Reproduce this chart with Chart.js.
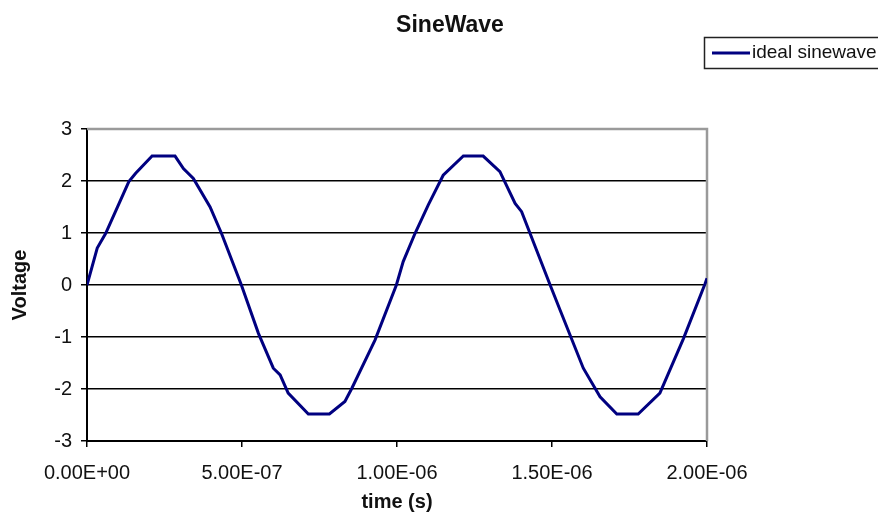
<!DOCTYPE html>
<html>
<head>
<meta charset="utf-8">
<script src="https://cdn.jsdelivr.net/npm/chart.js@4/dist/chart.umd.min.js"></script>
<style>
  html, body { margin: 0; padding: 0; background: #fff; }
  #wrap { width: 878px; height: 512px; position: relative; }
</style>
</head>
<body>
<div id="wrap"><canvas id="chart"></canvas></div>
<script>
// time in seconds, voltage
const timeS = [
  0, 0.033e-6, 0.060e-6, 0.135e-6, 0.157e-6, 0.210e-6, 0.284e-6, 0.311e-6, 0.343e-6, 0.397e-6, 0.434e-6, 0.498e-6,
  0.553e-6, 0.601e-6, 0.623e-6, 0.649e-6, 0.714e-6, 0.782e-6, 0.832e-6, 0.854e-6, 0.929e-6, 0.998e-6,
  1.020e-6, 1.058e-6, 1.101e-6, 1.149e-6, 1.214e-6, 1.278e-6, 1.332e-6, 1.381e-6, 1.402e-6, 1.494e-6,
  1.526e-6, 1.601e-6, 1.655e-6, 1.709e-6, 1.778e-6, 1.848e-6, 1.924e-6, 1.994e-6, 2.000e-6
];
const voltage = [
  0, 0.71, 0.99, 1.99, 2.15, 2.48, 2.48, 2.24, 2.05, 1.50, 0.99, 0.00,
  -0.93, -1.60, -1.73, -2.08, -2.48, -2.48, -2.24, -1.99, -1.06, 0.00,
  0.45, 0.99, 1.54, 2.11, 2.48, 2.48, 2.18, 1.57, 1.41, 0.00,
  -0.48, -1.60, -2.15, -2.48, -2.48, -2.08, -1.03, 0.03, 0.13
];
const xTickValues = [0, 5e-7, 1e-6, 1.5e-6, 2e-6];
const xTickLabels = ["0.00E+00", "5.00E-07", "1.00E-06", "1.50E-06", "2.00E-06"];
const yTickValues = [-3, -2, -1, 0, 1, 2, 3];
const seriesName = "ideal sinewave";
const chartTitle = "SineWave";

const FONT = "'Liberation Sans', Arial, sans-serif";
const NAVY = "#000080";

const points = timeS.map((t, i) => ({ x: t, y: voltage[i] }));

// title, legend box and the grey plot frame, Excel style
const decor = {
  id: "decor",
  beforeDatasetsDraw(chart) {
    const { ctx, chartArea: a } = chart;
    ctx.save();
    ctx.strokeStyle = "#9a9a9a";
    ctx.lineWidth = 2.5;
    ctx.beginPath();
    ctx.moveTo(a.left, a.top);
    ctx.lineTo(a.right, a.top);
    ctx.lineTo(a.right, a.bottom);
    ctx.stroke();
    ctx.restore();
  },
  afterDraw(chart) {
    const ctx = chart.ctx;
    ctx.save();
    ctx.fillStyle = "#111";
    ctx.font = "bold 23px " + FONT;
    ctx.textAlign = "center";
    ctx.textBaseline = "alphabetic";
    ctx.fillText(chartTitle, 450, 32);

    ctx.strokeStyle = "#222";
    ctx.lineWidth = 1.5;
    ctx.strokeRect(704.5, 37.5, 180, 31);
    ctx.strokeStyle = NAVY;
    ctx.lineWidth = 3;
    ctx.beginPath();
    ctx.moveTo(712, 53);
    ctx.lineTo(750, 53);
    ctx.stroke();
    ctx.font = "19px " + FONT;
    ctx.textAlign = "left";
    ctx.textBaseline = "middle";
    ctx.fillStyle = "#111";
    ctx.fillText(chart.data.datasets[0].label, 752, 53);
    ctx.restore();
  }
};

new Chart(document.getElementById("chart"), {
  type: "line",
  data: {
    datasets: [{
      label: seriesName,
      data: points,
      borderColor: NAVY,
      borderWidth: 3,
      pointRadius: 0,
      tension: 0,
      fill: false
    }]
  },
  options: {
    responsive: true,
    maintainAspectRatio: false,
    animation: false,
    devicePixelRatio: 1,
    layout: { padding: { top: 129, right: 171, left: 0, bottom: 0 } },
    plugins: {
      legend: { display: false },
      title: { display: false },
      tooltip: { enabled: false }
    },
    scales: {
      x: {
        type: "linear",
        min: 0,
        max: 2e-6,
        afterBuildTicks: (s) => { s.ticks = xTickValues.map(v => ({ value: v })); },
        afterFit: (s) => { s.height = 71; },
        ticks: {
          callback: (v, i) => xTickLabels[i],
          font: { family: FONT, size: 20 },
          color: "#111",
          padding: 14,
          maxRotation: 0,
          autoSkip: false
        },
        grid: { drawOnChartArea: false, drawTicks: true, tickLength: 6, color: "#000", lineWidth: 1.5 },
        border: { display: true, color: "#000", width: 2 },
        title: {
          display: true,
          text: "time (s)",
          font: { family: FONT, size: 20, weight: "bold", lineHeight: 1 },
          color: "#111",
          padding: { top: 0, bottom: 0 }
        }
      },
      y: {
        min: -3,
        max: 3,
        afterBuildTicks: (s) => { s.ticks = yTickValues.map(v => ({ value: v })); },
        afterFit: (s) => { s.width = 87; },
        ticks: {
          font: { family: FONT, size: 20 },
          color: "#111",
          padding: 9
        },
        grid: {
          color: (c) => (c.tick && c.tick.value === 3 ? "#9a9a9a" : "#000"),
          tickColor: "#000",
          lineWidth: 1.5,
          tickLength: 6
        },
        border: { display: true, color: "#000", width: 2 },
        title: {
          display: true,
          text: "Voltage",
          font: { family: FONT, size: 20, weight: "bold", lineHeight: 1.2 },
          color: "#111",
          padding: { top: 8, bottom: 0 }
        }
      }
    }
  },
  plugins: [decor]
});
</script>
</body>
</html>
